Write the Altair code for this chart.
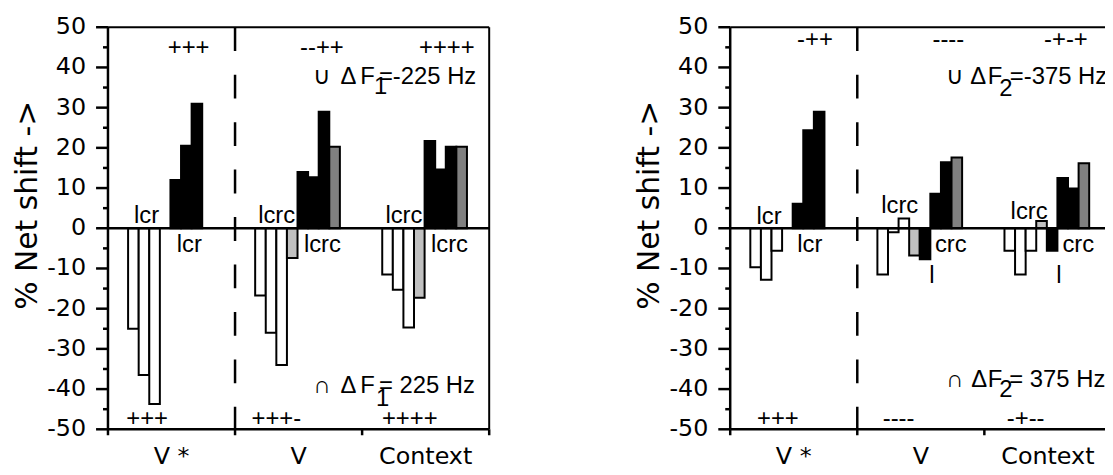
import altair as alt
import pandas as pd

# ---------------- data ----------------
categories = ["V *", "V", "Context"]

# Panel 1 (ΔF1): first series (white, 4th light grey), second series (black, 4th dark grey)
f1_lower = [[-25.0, -36.5, -43.7], [-16.7, -26.0, -34.0, -7.4], [-11.5, -15.3, -24.7, -17.3]]
f1_upper = [[12.0, 20.5, 31.0], [14.0, 12.7, 29.0, 20.3], [21.7, 14.6, 20.3, 20.3]]
# Panel 2 (ΔF2)
f2_lower = [[-9.7, -12.8, -5.6], [-11.5, -1.0, 2.4, -6.8], [-5.6, -11.5, -5.6, 1.8]]
f2_upper = [[6.1, 24.4, 29.0], [-7.7, 8.6, 16.4, 17.6], [-5.6, 12.5, 9.9, 16.2]]

f1_top_sig = ["+++", "--++", "++++"]
f1_bot_sig = ["+++", "+++-", "++++"]
f2_top_sig = ["-++", "----", "-+-+"]
f2_bot_sig = ["+++", "----", "-+--"]

y_ticks = list(range(-50, 51, 10))
y_minor = list(range(-45, 50, 10))
y_title = "% Net shift ->"

# ---------------- layout ----------------
SLOTS = 12                 # slots per category
PAD = 1.9                  # empty slots before first bar of a category
PANEL = SLOTS * 3          # slots per panel
H = 405                    # plot height (px)
SP = 384 / PANEL           # px per slot
PW = 1004.3                # single view spanning both panels (cut at page edge)
XMAX = PW / SP
R0 = 58.76                 # slot offset of the second panel
YPX = H / 100              # px per y unit
AFONT = "Liberation Sans"
TFONT = "DejaVu Sans"

xs = alt.Scale(domain=[0, XMAX], nice=False, zero=False)
ys = alt.Scale(domain=[-50, 50], nice=False, zero=False)


def X(f):
    return alt.X(f, type="quantitative", scale=xs, axis=None)


def Y(f):
    return alt.Y(f, type="quantitative", scale=ys, axis=None)


bar_rows, seg_rows, dash_rows = [], [], []
lab_rows, sig_rows, tick_rows, cat_rows, title_rows = [], [], [], [], []


def add_panel(off, lower, upper, top_sig, bot_sig, sig_pos, labels, df, border):
    # bars
    for ci, (lo, up) in enumerate(zip(lower, upper)):
        for s, vals in ((0, lo), (1, up)):
            for k, v in enumerate(vals):
                x = off + ci * SLOTS + PAD + s * 4 + k
                kind = ("white" if s == 0 else "black") if k < 3 else ("light" if s == 0 else "dark")
                bar_rows.append(dict(x=x, x2=x + 1, v=v, kind=kind))
    # frame / axes
    seg_rows.append(dict(x=off, x2=off, y=50, y2=-50, w=2.5))
    seg_rows.append(dict(x=off, x2=off + PANEL, y=-50, y2=-50, w=2.5))
    seg_rows.append(dict(x=off, x2=off + PANEL, y=50, y2=50, w=2))
    seg_rows.append(dict(x=off, x2=off + PANEL, y=0, y2=0, w=2.5))
    if border:
        seg_rows.append(dict(x=off + PANEL, x2=off + PANEL, y=50, y2=-50, w=2))
    for t in y_ticks:
        seg_rows.append(dict(x=off - 12 / SP, x2=off, y=t, y2=t, w=2.5))
        tick_rows.append(dict(x=off - 22 / SP, y=t, text=str(t)))
    for t in y_minor:
        seg_rows.append(dict(x=off - 5 / SP, x2=off, y=t, y2=t, w=2.5))
    for i in range(4):
        seg_rows.append(dict(x=off + SLOTS * i, x2=off + SLOTS * i, y=-50,
                             y2=-50 - 6 / YPX, w=2.5))
    for i, c in enumerate(categories):
        cat_rows.append(dict(x=off + SLOTS * i + SLOTS / 2, y=-58.7, text=c))
    dash_rows.append(dict(x=off + SLOTS, y=50, y2=-50))
    title_rows.append(dict(x=off - 71.7 / SP, y=5.7, text=y_title))
    # significance strings
    (tx, ty), (bx, by) = sig_pos
    sig_rows.extend(dict(text=t, x=off + x, y=ty) for t, x in zip(top_sig, tx))
    sig_rows.extend(dict(text=t, x=off + x, y=by) for t, x in zip(bot_sig, bx))
    # letter labels
    lab_rows.extend(dict(text=t, x=off + x, y=y) for t, x, y in labels)
    # ΔF annotations: (symbol, text pieces)
    for sym, pieces in df:
        for t, x, y in [(sym, *pieces[0])] + pieces[1:]:
            lab_rows.append(dict(text=t, x=off + x, y=y))


add_panel(
    0, f1_lower, f1_upper, f1_top_sig, f1_bot_sig,
    (([7.62, 20.2, 32.0], 43.0), ([3.7, 15.9, 28.5], -49.06)),
    [("lcr", 2.46, 1.3), ("lcr", 6.5, -5.85),
     ("lcrc", 14.18, 1.3), ("lcrc", 18.5, -5.85),
     ("lcrc", 26.2, 1.3), ("lcrc", 30.5, -5.85)],
    [("\u222a", [(19.34, 35.8), ("\u0394", 21.96, 35.8), ("F", 23.83, 35.8),
                 ("1", 25.12, 33.3), ("=-225 Hz", 25.59, 35.8)]),
     ("\u2229", [(19.4, -41.0), ("\u0394", 21.96, -41.0), ("F", 23.83, -41.0),
                 ("1", 25.3, -44.1), ("= 225 Hz", 25.59, -41.0)])],
    True)

add_panel(
    R0, f2_lower, f2_upper, f2_top_sig, f2_bot_sig,
    (([8.0, 20.6, 31.7], 45.1), ([4.5, 15.9, 27.9], -49.2)),
    [("lcr", 2.48, 1.06), ("lcr", 6.33, -5.85),
     ("lcrc", 14.26, 3.7), ("crc", 19.33, -5.85), ("l", 18.8, -13.5),
     ("lcrc", 26.48, 2.3), ("crc", 31.37, -5.85), ("l", 30.8, -13.5)],
    [("\u222a", [(20.4, 35.8), ("\u0394", 22.66, 35.8), ("F", 24.32, 35.8),
                 ("2", 25.41, 32.9), ("=-375 Hz", 26.41, 35.8)]),
     ("\u2229", [(20.41, -39.5), ("\u0394", 22.76, -39.5), ("F", 24.32, -39.5),
                 ("2", 25.41, -41.9), ("= 375 Hz", 26.36, -39.5)])],
    False)

labels = alt.Chart(pd.DataFrame(lab_rows)).mark_text(
    align="left", baseline="alphabetic", font=AFONT, fontSize=24, color="black"
).encode(x=X("x"), y=Y("y"), text="text:N")

bars = alt.Chart(pd.DataFrame(bar_rows)).mark_rect(stroke="black", strokeWidth=2).encode(
    x=X("x"), x2="x2:Q", y=Y("v"), y2=alt.datum(0),
    fill=alt.Fill("kind:N", legend=None,
                  scale=alt.Scale(domain=["white", "black", "light", "dark"],
                                  range=["#ffffff", "#000000", "#c0c0c0", "#808080"])),
)

segs = alt.Chart(pd.DataFrame(seg_rows)).mark_rule(color="black").encode(
    x=X("x"), x2="x2:Q", y=Y("y"), y2="y2:Q",
    strokeWidth=alt.StrokeWidth("w:Q", scale=None))

dashes = alt.Chart(pd.DataFrame(dash_rows)).mark_rule(
    color="black", strokeWidth=2.5, strokeDash=[24, 23.8]).encode(
    x=X("x"), y=Y("y"), y2="y2:Q")

sigs = alt.Chart(pd.DataFrame(sig_rows)).mark_text(
    align="center", baseline="alphabetic", font=AFONT, fontSize=24, color="black"
).encode(x=X("x"), y=Y("y"), text="text:N")

ticklabels = alt.Chart(pd.DataFrame(tick_rows)).mark_text(
    align="right", baseline="middle", font=TFONT, fontSize=24, color="black"
).encode(x=X("x"), y=Y("y"), text="text:N")

catlabels = alt.Chart(pd.DataFrame(cat_rows)).mark_text(
    align="center", baseline="alphabetic", font=TFONT, fontSize=24, color="black"
).encode(x=X("x"), y=Y("y"), text="text:N")

titles = alt.Chart(pd.DataFrame(title_rows)).mark_text(
    align="center", baseline="alphabetic", angle=270, font=TFONT, fontSize=30, color="black"
).encode(x=X("x"), y=Y("y"), text="text:N")

chart = alt.layer(labels, bars, segs, dashes, sigs, ticklabels, catlabels, titles).properties(
    width=PW, height=H,
    autosize=alt.AutoSizeParams(type="none"),
    padding={"left": 100.7, "top": 17.7, "right": 0, "bottom": 36.3},
).configure_view(strokeWidth=0)

chart.save("out.html", embed_options={"renderer": "svg", "actions": False})
